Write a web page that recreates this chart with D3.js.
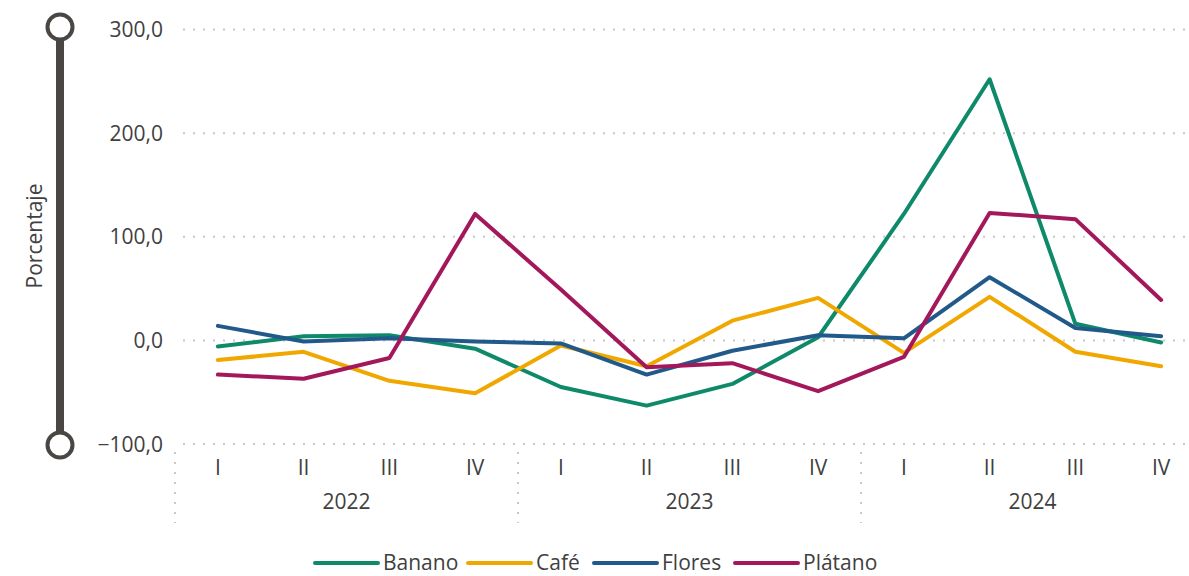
<!DOCTYPE html>
<html>
<head>
<meta charset="utf-8">
<script src="https://cdn.jsdelivr.net/npm/d3@7"></script>
<style>
  body { margin: 0; background: #fff; }
  svg text { font-family: "Open Sans", "Noto Sans", sans-serif; fill: #404040; }
</style>
</head>
<body>
<div id="chart"></div>
<script>
// data
var years = ['2022', '2023', '2024'];
var quarters = ['I', 'II', 'III', 'IV'];
var yTicks = [-100, 0, 100, 200, 300];
var seriesNames = ['Banano', 'Café', 'Flores', 'Plátano'];
var seriesColors = ['#0e8a6b', '#f0a800', '#215a8a', '#a3185b'];

var banano  = [-6, 4, 5, -8, -45, -63, -42, 3, 122, 252, 16, -2];
var cafe    = [-19, -11, -39, -51, -5, -25, 19, 41, -12, 42, -11, -25];
var flores  = [14, -1, 2, -1, -3, -33, -10, 5, 2, 61, 12, 4];
var platano = [-33, -37, -17, 122, 49, -26, -22, -49, -16, 123, 117, 39];

var seriesValues = [banano, cafe, flores, platano];

var width = 1189,
    height = 576;

// one key per quarter
var keys = [];
years.forEach(function(y) {
  quarters.forEach(function(q) { keys.push(y + '-' + q); });
});

var x = d3.scaleBand().domain(keys).range([175, 1204]);
var xYear = d3.scaleBand().domain(years).range([175, 1204]);
var y = d3.scaleLinear().domain([-100, 300]).range([444, 29.5]);

var svg = d3.select('#chart').append('svg')
    .attr('width', width)
    .attr('height', height);

// horizontal grid
svg.append('g').attr('class', 'grid').selectAll('line')
    .data(yTicks)
    .enter().append('line')
    .attr('x1', 183)
    .attr('x2', width)
    .attr('y1', function(d) { return y(d); })
    .attr('y2', function(d) { return y(d); })
    .attr('stroke', '#c8c8c8')
    .attr('stroke-width', 2)
    .attr('stroke-dasharray', '2,8');

// y labels
svg.append('g').selectAll('text')
    .data(yTicks)
    .enter().append('text')
    .attr('x', 163)
    .attr('y', function(d) { return y(d); })
    .attr('dy', '0.36em')
    .attr('text-anchor', 'end')
    .style('font-size', '21px')
    .text(function(d) { return d3.format('.1f')(d).replace('.', ','); });

// year separators
svg.append('g').selectAll('line')
    .data(years)
    .enter().append('line')
    .attr('x1', function(d) { return xYear(d); })
    .attr('x2', function(d) { return xYear(d); })
    .attr('y1', 452)
    .attr('y2', 523)
    .attr('stroke', '#c8c8c8')
    .attr('stroke-width', 2)
    .attr('stroke-dasharray', '2,8');

// quarter labels
svg.append('g').selectAll('text')
    .data(keys)
    .enter().append('text')
    .attr('x', function(d) { return x(d) + x.bandwidth() / 2; })
    .attr('y', 475)
    .attr('text-anchor', 'middle')
    .style('font-size', '21px')
    .text(function(d) { return d.split('-')[1]; });

// year labels
svg.append('g').selectAll('text')
    .data(years)
    .enter().append('text')
    .attr('x', function(d) { return xYear(d) + xYear.bandwidth() / 2; })
    .attr('y', 509)
    .attr('text-anchor', 'middle')
    .style('font-size', '21px')
    .text(function(d) { return d; });

// lines
var line = d3.line()
    .x(function(d, i) { return x(keys[i]) + x.bandwidth() / 2; })
    .y(function(d) { return y(d); });

svg.append('g').selectAll('path')
    .data(seriesValues)
    .enter().append('path')
    .attr('d', line)
    .attr('fill', 'none')
    .attr('stroke', function(d, i) { return seriesColors[i]; })
    .attr('stroke-width', 4)
    .attr('stroke-linejoin', 'round')
    .attr('stroke-linecap', 'round');

// decorative axis bar
var bar = svg.append('g').attr('stroke', '#4a4643').attr('fill', 'none');
bar.append('line')
    .attr('x1', 60).attr('x2', 60)
    .attr('y1', 40).attr('y2', 432)
    .attr('stroke-width', 8);
bar.append('circle').attr('cx', 60).attr('cy', 27).attr('r', 12.5)
    .attr('stroke-width', 4).attr('fill', '#fff');
bar.append('circle').attr('cx', 60).attr('cy', 445).attr('r', 12.5)
    .attr('stroke-width', 4).attr('fill', '#fff');

// y title
svg.append('text')
    .attr('transform', 'translate(42,236) rotate(-90)')
    .attr('text-anchor', 'middle')
    .style('font-size', '21px')
    .text('Porcentaje');

// legend
var legendX = [315, 468, 594, 735];
var legend = svg.append('g').selectAll('g')
    .data(seriesNames)
    .enter().append('g')
    .attr('transform', function(d, i) { return 'translate(' + legendX[i] + ',563)'; });
legend.append('line')
    .attr('x1', 0).attr('x2', 63)
    .attr('stroke', function(d, i) { return seriesColors[i]; })
    .attr('stroke-width', 4)
    .attr('stroke-linecap', 'round');
legend.append('text')
    .attr('x', 68)
    .attr('dy', '0.34em')
    .style('font-size', '21px')
    .text(function(d) { return d; });
</script>
</body>
</html>
